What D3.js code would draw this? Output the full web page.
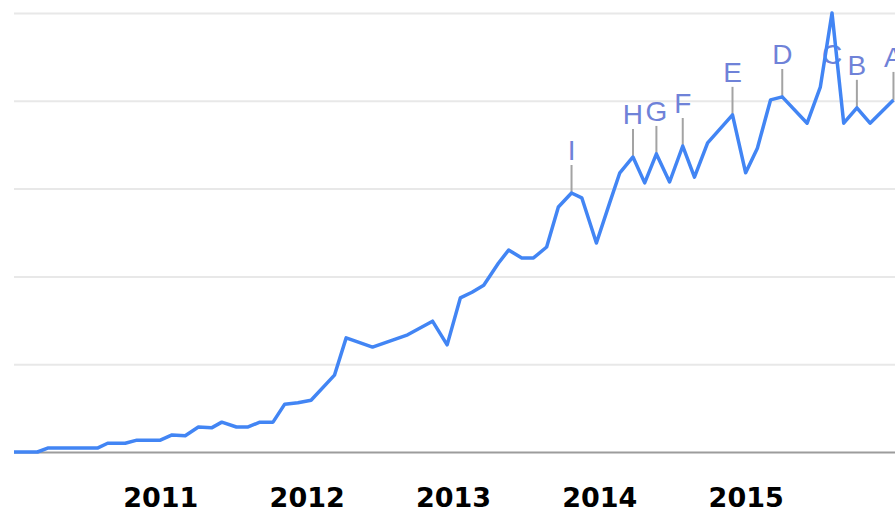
<!DOCTYPE html>
<html><head><meta charset="utf-8">
<script src="https://cdn.jsdelivr.net/npm/d3@7/dist/d3.min.js"></script>
<style>html,body{margin:0;padding:0;background:#fff;overflow:hidden}</style>
</head><body><svg id="chart" width="895" height="515"></svg>
<script>
// decimal-year positions of the plotted points
const times = [2010.00, 2010.16, 2010.23, 2010.57, 2010.64, 2010.76, 2010.84, 2011.00, 2011.08, 2011.17,
  2011.26, 2011.35, 2011.42, 2011.52, 2011.60, 2011.68, 2011.77, 2011.85, 2011.94, 2012.03,
  2012.19, 2012.27, 2012.45, 2012.69, 2012.86, 2012.96, 2013.05, 2013.13, 2013.21, 2013.31,
  2013.38, 2013.47, 2013.55, 2013.64, 2013.72, 2013.81, 2013.88, 2013.98, 2014.07, 2014.14,
  2014.23, 2014.31, 2014.39, 2014.48, 2014.57, 2014.65, 2014.74, 2014.91, 2015.00, 2015.08,
  2015.17, 2015.25, 2015.42, 2015.51, 2015.59, 2015.67, 2015.76, 2015.85, 2016.01];
// search interest (0-100)
const values = [0, 0, 0.9, 0.9, 2, 2, 2.7, 2.7, 3.9, 3.7,
  5.7, 5.5, 6.8, 5.7, 5.7, 6.8, 6.8, 10.9, 11.2, 11.8,
  17.5, 26, 23.9, 26.7, 29.8, 24.4, 35.1, 36.4, 38, 43,
  46, 44.2, 44.2, 46.7, 55.8, 59, 57.9, 47.6, 56.7, 63.6,
  67.2, 61.3, 67.9, 61.5, 69.7, 62.6, 70.4, 76.8, 63.6, 69.2,
  80.2, 80.9, 74.9, 83.1, 100, 74.9, 78.4, 74.9, 80.2];
const yearTicks = [2011, 2012, 2013, 2014, 2015];
const gridValues = [0, 20, 40, 60, 80, 100];
const markerLetters = ["I", "H", "G", "F", "E", "D", "C", "B", "A"];
const markerTimes = [2013.81, 2014.23, 2014.39, 2014.57, 2014.91, 2015.25, 2015.59, 2015.76, 2016.01];

const W = 895, H = 515, left = 14;
const x = d3.scaleLinear().domain([2010, 2016]).range([left, 892]);
const y = d3.scaleLinear().domain([0, 100]).range([452, 13]);
const svg = d3.select("#chart");

// gridlines
const grid = svg.append("g").attr("transform", `translate(${left},0)`)
  .call(d3.axisLeft(y).tickValues(gridValues).tickSize(-(W - left)).tickFormat(""));
grid.select(".domain").remove();
grid.selectAll(".tick line")
  .attr("stroke", d => d === 0 ? "#9c9c9c" : "#e8e8e8")
  .attr("stroke-width", d => d === 0 ? 2.2 : 2);

// year labels
const xa = svg.append("g").attr("transform", `translate(0,${y(0)})`)
  .call(d3.axisBottom(x).tickValues(yearTicks).tickFormat(d3.format("d")).tickSize(0));
xa.select(".domain").remove();
xa.selectAll("text")
  .attr("y", 55).attr("dy", 0)
  .attr("fill", "#000")
  .style("font-family", "'DejaVu Sans', sans-serif")
  .style("font-weight", "bold")
  .style("font-size", "27px");

const data = times.map((t, i) => ({t, v: values[i]}));

// annotation markers
const markers = markerLetters.map((L, k) => {
  const t = markerTimes[k];
  let best = data[0];
  data.forEach(d => { if (Math.abs(d.t - t) < Math.abs(best.t - t)) best = d; });
  const px = x(best.t), py = y(best.v);
  const base = Math.max(py - 33, 64);
  return {L, px, py, base};
});
const mg = svg.append("g");
markers.forEach(m => {
  if (m.py > m.base + 5) {
    mg.append("line").attr("x1", m.px).attr("x2", m.px)
      .attr("y1", m.py).attr("y2", m.base + 5)
      .attr("stroke", "#a3a3a3").attr("stroke-width", 2);
  }
  mg.append("text").attr("x", m.px).attr("y", m.base)
    .attr("text-anchor", "middle")
    .attr("fill", "#6f82d8")
    .style("font-family", "'Liberation Sans', Arial, sans-serif")
    .style("font-size", "28px")
    .text(m.L);
});

// line
svg.append("path").datum(data)
  .attr("fill", "none")
  .attr("stroke", "#4285f4")
  .attr("stroke-width", 3.5)
  .attr("stroke-linejoin", "round")
  .attr("d", d3.line().x(d => x(d.t)).y(d => y(d.v)));
</script>
</body></html>
